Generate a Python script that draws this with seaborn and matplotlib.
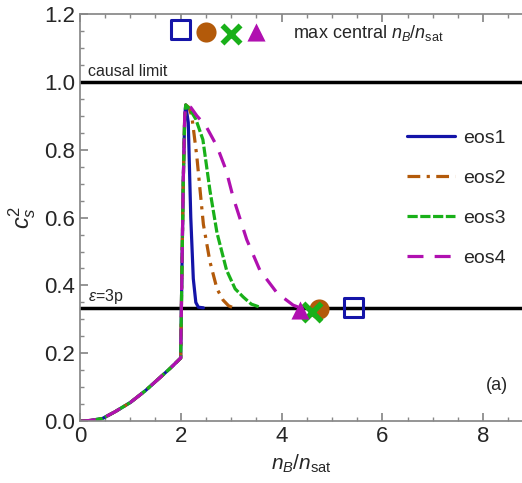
import numpy as np
import pandas as pd
import matplotlib
matplotlib.use("Agg")
import matplotlib.pyplot as plt
import seaborn as sns

sns.set_theme(style="ticks")
plt.rcParams['font.family'] = ['Liberation Sans', 'DejaVu Sans']
plt.rcParams['mathtext.fontset'] = 'custom'
plt.rcParams['mathtext.rm'] = 'Liberation Sans'
plt.rcParams['mathtext.it'] = 'Liberation Sans:italic'

# common low-density part
x_low = [0.0, 0.2, 0.45, 0.7, 1.0, 1.3, 1.6, 1.8, 2.0, 2.02, 2.05, 2.08, 2.1]
y_low = [0.0, 0.002, 0.008, 0.028, 0.055, 0.09, 0.13, 0.157, 0.186, 0.40, 0.70, 0.90, 0.932]

# high-density tails of each eos
x_eos1 = [2.15, 2.2, 2.25, 2.3, 2.35, 2.45]
y_eos1 = [0.88, 0.60, 0.42, 0.35, 0.336, 0.334]
x_eos2 = [2.16, 2.22, 2.32, 2.45, 2.58, 2.72, 2.84, 2.95, 3.05]
y_eos2 = [0.925, 0.90, 0.78, 0.58, 0.47, 0.39, 0.357, 0.34, 0.334]
x_eos3 = [2.18, 2.3, 2.44, 2.58, 2.72, 2.91, 3.08, 3.24, 3.4, 3.57]
y_eos3 = [0.92, 0.89, 0.83, 0.68, 0.555, 0.445, 0.39, 0.366, 0.345, 0.336]
x_eos4 = [2.2, 2.32, 2.5, 2.72, 2.9, 3.04, 3.31, 3.57, 3.91, 4.23, 4.37]
y_eos4 = [0.925, 0.90, 0.87, 0.81, 0.74, 0.66, 0.535, 0.445, 0.378, 0.342, 0.334]

# max central density markers
max_x = [5.42, 4.74, 4.6, 4.37]
max_y = [0.335, 0.33, 0.322, 0.327]
key_x = [2.0, 2.5, 3.0, 3.5]
key_y = [1.155, 1.148, 1.142, 1.147]

names = ["eos1", "eos2", "eos3", "eos4"]
colors = ["#1414a8", "#b35a0a", "#19b019", "#b010b0"]
styles = ["-", (0, (4, 2, 1, 2)), (0, (3.2, 0.8)), (0, (5, 3.5))]
markers = ["s", "o", "x", "^"]

tails = [(x_eos1, y_eos1), (x_eos2, y_eos2), (x_eos3, y_eos3), (x_eos4, y_eos4)]

fig = plt.figure(figsize=(5.22, 4.83), dpi=100)
ax = fig.add_axes([0.153, 0.128, 0.847, 0.843])

for name, col, ls, (xt, yt) in zip(names, colors, styles, tails):
    df = pd.DataFrame({"x": x_low + xt, "y": y_low + yt})
    sns.lineplot(data=df, x="x", y="y", color=col, linestyle=ls, lw=2.3,
                 sort=False, estimator=None, label=name, ax=ax)

ax.axhline(1.0, color="black", lw=2.5, zorder=1)
ax.axhline(1 / 3, color="black", lw=2.5, zorder=1)

for i in range(4):
    for xs, ys in [(max_x, max_y), (key_x, key_y)]:
        if markers[i] == "s":
            ax.scatter(xs[i], ys[i], marker="s", s=190, facecolors="none",
                       edgecolors=colors[i], linewidths=2.2, zorder=5, clip_on=False)
        elif markers[i] == "x":
            ax.scatter(xs[i], ys[i], marker="x", s=170, color=colors[i],
                       linewidths=4, zorder=5, clip_on=False)
        elif markers[i] == "o":
            ax.scatter(xs[i], ys[i], marker="o", s=210, color=colors[i],
                       linewidths=0, zorder=5, clip_on=False)
        else:
            ax.scatter(xs[i], ys[i], marker="^", s=170, color=colors[i],
                       linewidths=0, zorder=5, clip_on=False)

ax.text(4.23, 1.145, r"max central $n_B/n_{\mathrm{sat}}$", fontsize=13, va="center")
ax.text(0.16, 1.008, "causal limit", fontsize=11.5, va="bottom")
ax.text(0.16, 0.338, r"$\varepsilon$=3p", fontsize=11.5, va="bottom")
ax.text(8.5, 0.106, "(a)", fontsize=13, ha="right", va="center")

ax.set_xlim(0, 8.77)
ax.set_ylim(0, 1.2)
ax.set_xticks([0, 2, 4, 6, 8])
ax.set_yticks([0.0, 0.2, 0.4, 0.6, 0.8, 1.0, 1.2])
ax.set_yticklabels(["0.0", "0.2", "0.4", "0.6", "0.8", "1.0", "1.2"])
ax.set_xticks(np.arange(0, 8.8, 0.5), minor=True)
ax.set_yticks(np.arange(0, 1.2, 0.05), minor=True)
ax.tick_params(which="both", direction="in", top=True, right=False,
               color="#888888", labelsize=16)
ax.tick_params(which="major", length=6)
ax.tick_params(which="minor", length=3)
for side in ["left", "bottom", "top"]:
    ax.spines[side].set_color("#888888")
ax.spines["right"].set_visible(False)

ax.set_xlabel(r"$n_B/n_{\mathrm{sat}}$", fontsize=15)
ax.set_ylabel(r"$c_s^2$", fontsize=17)

ax.legend(loc="upper left", bbox_to_anchor=(0.70, 0.76), frameon=False,
          fontsize=14, handlelength=2.5, labelspacing=1.15, handletextpad=0.4)

fig.savefig("out.png", dpi=100)
